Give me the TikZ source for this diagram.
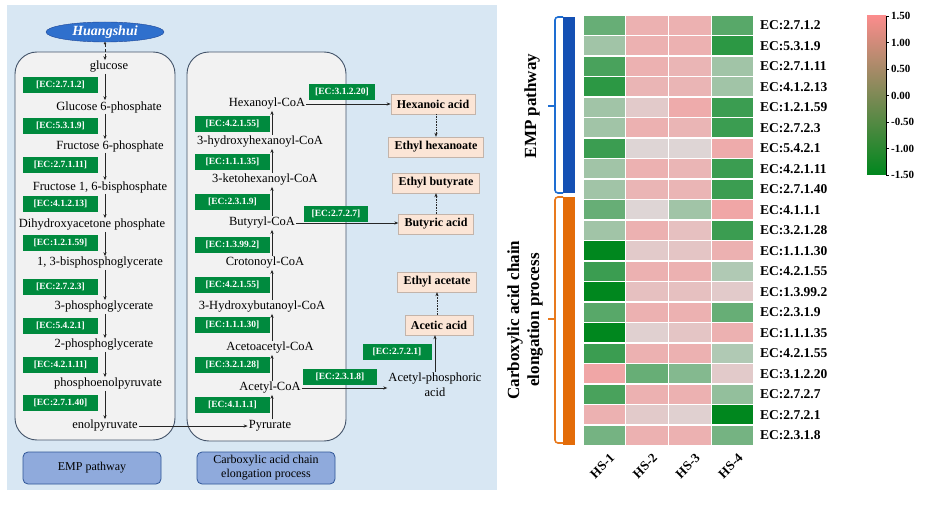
\documentclass[tikz,border=0pt]{standalone}
\usepackage{fontspec}
\setmainfont{Liberation Serif}
\usetikzlibrary{arrows.meta,shapes.geometric}

\definecolor{panelbg}{RGB}{216,231,243}
\definecolor{boxfill}{RGB}{242,242,242}
\definecolor{boxline}{RGB}{68,84,106}
\definecolor{tagfill}{RGB}{143,170,220}
\definecolor{tagline}{RGB}{47,85,151}
\definecolor{ecgreen}{RGB}{0,138,62}
\definecolor{prodfill}{RGB}{251,229,214}
\definecolor{prodline}{RGB}{195,180,170}
\definecolor{hsfill}{RGB}{47,112,205}
\definecolor{hsline}{RGB}{30,70,150}
\definecolor{hmpos}{RGB}{250,140,140}
\definecolor{hmzero}{RGB}{220,218,218}
\definecolor{hmneg}{RGB}{0,135,30}
\definecolor{empbar}{RGB}{20,80,180}
\definecolor{empbrk}{RGB}{30,110,210}
\definecolor{carbar}{RGB}{227,108,9}
\definecolor{carbrk}{RGB}{232,122,30}

\tikzset{
  met/.style={font=\fontsize{12.5}{13}\selectfont, inner sep=1pt},
  ecbox/.style={fill=ecgreen, text=white, font=\bfseries\fontsize{9.5}{10}\selectfont,
    minimum width=75pt, minimum height=16pt, inner sep=0pt},
  prod/.style={fill=prodfill, draw=prodline, font=\bfseries\fontsize{12}{13}\selectfont,
    minimum height=20pt, inner xsep=6pt},
  flow/.style={-{Stealth[length=4pt,width=3.2pt]}, line width=0.6pt, draw=black!85},
  ester/.style={flow, densely dotted},
  routebox/.style={fill=boxfill, draw=boxline, line width=0.9pt, rounded corners=22pt},
  tagbox/.style={fill=tagfill, draw=tagline, line width=0.8pt, rounded corners=5pt,
    minimum width=138pt, minimum height=32pt, align=center,
    font=\fontsize{12}{14}\selectfont, inner sep=0pt},
  rowlab/.style={anchor=west, font=\bfseries\fontsize{13.5}{14}\selectfont, inner sep=0pt},
  collab/.style={anchor=east, rotate=45, font=\bfseries\fontsize{13}{14}\selectfont, inner sep=0pt},
  grouplab/.style={rotate=90, align=center, font=\bfseries\fontsize{17}{20}\selectfont},
  barlab/.style={anchor=west, font=\bfseries\fontsize{11}{12}\selectfont, inner sep=0pt}
}

\begin{document}
\begin{tikzpicture}[x=1pt,y=-1pt]
    \useasboundingbox (0,0) rectangle (927,524);

    % pathway panel
    \fill[panelbg] (7,5) rectangle (497,490);
    \draw[routebox] (15,52) rectangle (175,440);
    \draw[routebox] (187,52) rectangle (346,441);
    \node[tagbox] (emptag) at (92,468) {EMP pathway};
    \node[tagbox] (cartag) at (266,468) {Carboxylic acid chain\\elongation process};

    \node[ellipse, fill=hsfill, draw=hsline, minimum width=118pt, minimum height=20pt,
      inner sep=0pt, text=white, font=\bfseries\itshape\fontsize{14}{15}\selectfont] (hs) at (105,32) {Huangshui};

    % EMP column
    \coordinate (empx) at (105,0);
    \node[met] (glc) at (109,67) {glucose};
    \node[met] (g6p) at (109,107) {Glucose 6-phosphate};
    \node[met] (f6p) at (110,146) {Fructose 6-phosphate};
    \node[met] (fbp) at (100,187) {Fructose 1, 6-bisphosphate};
    \node[met] (dhap) at (92,225) {Dihydroxyacetone phosphate};
    \node[met] (bpg) at (100,263) {1, 3-bisphosphoglycerate};
    \node[met] (pga) at (104,307) {3-phosphoglycerate};
    \node[met] (pgb) at (104,345) {2-phosphoglycerate};
    \node[met] (pep) at (108,384) {phosphoenolpyruvate};
    \node[met] (enol) at (105,426) {enolpyruvate};

    \draw[flow, densely dashed, {Circle[length=2.4pt]}-{Stealth[length=4pt,width=3.2pt]}] (hs.south) -- (glc.north -| empx);
    \foreach \a/\b in {glc/g6p, g6p/f6p, f6p/fbp, fbp/dhap, dhap/bpg, bpg/pga, pga/pgb, pgb/pep, pep/enol}
        \draw[flow] (\a.south -| empx) -- (\b.north -| empx);

    \foreach \y/\ec [count=\i] in {85/2.7.1.2, 126/5.3.1.9, 165/2.7.1.11, 204/4.1.2.13, 243/1.2.1.59,
        287/2.7.2.3, 326/5.4.2.1, 365/4.2.1.11, 403/2.7.1.40}
        \node[ecbox] (empec\i) at (60.5,\y) {[EC:\ec]};

    % chain elongation column
    \coordinate (carx) at (272,0);
    \node[met] (hexcoa) at (267,104) {Hexanoyl-CoA};
    \node[met] (hhcoa) at (260,142) {3-hydroxyhexanoyl-CoA};
    \node[met] (khcoa) at (265,180) {3-ketohexanoyl-CoA};
    \node[met] (butcoa) at (262,223) {Butyryl-CoA};
    \node[met] (crocoa) at (265,263) {Crotonoyl-CoA};
    \node[met] (hbcoa) at (262,307) {3-Hydroxybutanoyl-CoA};
    \node[met] (aacoa) at (270,348) {Acetoacetyl-CoA};
    \node[met] (acoa) at (270,388) {Acetyl-CoA};
    \node[met] (pyr) at (270,426) {Pyrurate};

    \draw[flow] (enol.east) -- (pyr.west);
    \foreach \a/\b in {pyr/acoa, acoa/aacoa, aacoa/hbcoa, hbcoa/crocoa, crocoa/butcoa, butcoa/khcoa, khcoa/hhcoa, hhcoa/hexcoa}
        \draw[flow] (\a.north -| carx) -- (\b.south -| carx);

    \foreach \y/\ec [count=\i] in {124/4.2.1.55, 162/1.1.1.35, 202/2.3.1.9, 245/1.3.99.2,
        285/4.2.1.55, 325/1.1.1.30, 365/3.2.1.28, 405/4.1.1.1}
        \node[ecbox] (carec\i) at (232.5,\y) {[EC:\ec]};

    % acids and esters
    \node[prod] (hexacid) at (433,104) {Hexanoic acid};
    \node[prod] (ethhex) at (436,147) {Ethyl hexanoate};
    \node[prod] (ethbut) at (436,183) {Ethyl butyrate};
    \node[prod] (butacid) at (436,224) {Butyric acid};
    \node[prod] (ethace) at (437,282) {Ethyl acetate};
    \node[prod] (aceacid) at (439,325) {Acetic acid};
    \node[met, align=center, font=\fontsize{12.5}{15}\selectfont] (acp) at (435,385) {Acetyl-phosphoric\\acid};

    \draw[flow] (hexcoa.east) -- (hexcoa.east -| hexacid.west);
    \draw[flow] (butcoa.east) -- (butcoa.east -| butacid.west);
    \draw[flow] (acoa.east) -- (acoa.east -| acp.west);
    \draw[flow] (acp.north) -- (acp.north |- aceacid.south);
    \draw[ester] (hexacid.south -| ethhex) -- (ethhex.north);
    \draw[ester] (butacid.north) -- (ethbut.south);
    \draw[ester] (aceacid.north -| ethace) -- (ethace.south);

    \node[ecbox, minimum width=66pt] (ecA) at (342,92) {[EC:3.1.2.20]};
    \node[ecbox, minimum width=64pt] (ecB) at (336,214) {[EC:2.7.2.7]};
    \node[ecbox, minimum width=74pt] (ecC) at (340,377) {[EC:2.3.1.8]};
    \node[ecbox, minimum width=69pt] (ecD) at (397,352) {[EC:2.7.2.1]};

    % heatmap
    \foreach \vals [count=\r] in {{-0.8,0.8,0.8,-0.9},{-0.4,0.8,0.8,-1.2},{-1.0,0.8,0.7,-0.4},
        {-1.2,0.7,0.7,-0.4},{-0.4,0.3,0.9,-1.1},{-0.4,0.8,0.7,-1.1},{-1.1,0.1,0.1,0.9},
        {-0.4,0.8,0.7,-1.1},{-0.4,0.7,0.7,-1.1},{-0.8,0.1,-0.4,1.0},{-0.4,0.8,0.5,-1.1},
        {-1.5,0.3,0.4,0.8},{-1.1,0.8,0.8,-0.3},{-1.5,0.5,0.5,0.3},{-0.9,0.8,0.8,-0.8},
        {-1.5,0.2,0.4,0.8},{-1.1,0.8,0.8,-0.3},{1.0,-0.8,-0.6,0.3},{-1.0,0.8,0.8,-0.5},
        {0.8,0.3,0.2,-1.5},{-0.7,0.8,0.8,-0.7}}{
        \foreach \v [count=\c] in \vals {
            \pgfmathtruncatemacro\pct{round(abs(\v)/1.5*100)}
            \ifdim\v pt<0pt\def\tone{hmneg}\else\def\tone{hmpos}\fi
            \filldraw[fill=\tone!\pct!hmzero, draw=white, line width=1.2pt]
                ({583+(\c-1)*42.75},{15+(\r-1)*20.5}) rectangle ++(42.75,20.5);
        }
    }

    \foreach \lab [count=\r] in {EC:2.7.1.2, EC:5.3.1.9, EC:2.7.1.11, EC:4.1.2.13, EC:1.2.1.59,
        EC:2.7.2.3, EC:5.4.2.1, EC:4.2.1.11, EC:2.7.1.40, EC:4.1.1.1, EC:3.2.1.28, EC:1.1.1.30,
        EC:4.2.1.55, EC:1.3.99.2, EC:2.3.1.9, EC:1.1.1.35, EC:4.2.1.55, EC:3.1.2.20, EC:2.7.2.7,
        EC:2.7.2.1, EC:2.3.1.8}
        \node[rowlab] (row\r) at (760,{15+(\r-0.5)*20.5}) {\lab};

    \foreach \c in {1,...,4}
        \node[collab] (hs\c) at ({583+(\c-0.5)*42.75+8},456) {HS-\c};

    % group brackets
    \fill[empbar] (563,17) rectangle (575,193);
    \draw[empbrk, line width=1.6pt, rounded corners=3pt] (563,17) -- (555,17) -- (555,193) -- (563,193);
    \draw[empbrk, line width=1.6pt] (555,106) -- (548,106);
    \fill[carbar] (563,197) rectangle (575,445);
    \draw[carbrk, line width=1.6pt, rounded corners=3pt] (563,197) -- (555,197) -- (555,443) -- (563,443);
    \draw[carbrk, line width=1.6pt] (555,319) -- (548,319);
    \node[grouplab] (empgrp) at (532,106) {EMP pathway};
    \node[grouplab] (cargrp) at (525,320) {Carboxylic acid chain\\elongation process};

    % colour bar
    \shade[top color=hmpos, middle color=hmzero, bottom color=hmneg] (867,16) rectangle (886,175);
    \draw[line width=0.6pt] (886,16) -- (886,175);
    \foreach \t [count=\i] in {1.50,1.00,0.50,0.00,-0.50,-1.00,-1.50} {
        \draw[line width=0.6pt] (886,{16+(\i-1)*26.5}) -- ++(3,0);
        \node[barlab] (bar\i) at (891,{16+(\i-1)*26.5}) {\t};
    }
\end{tikzpicture}
\end{document}
